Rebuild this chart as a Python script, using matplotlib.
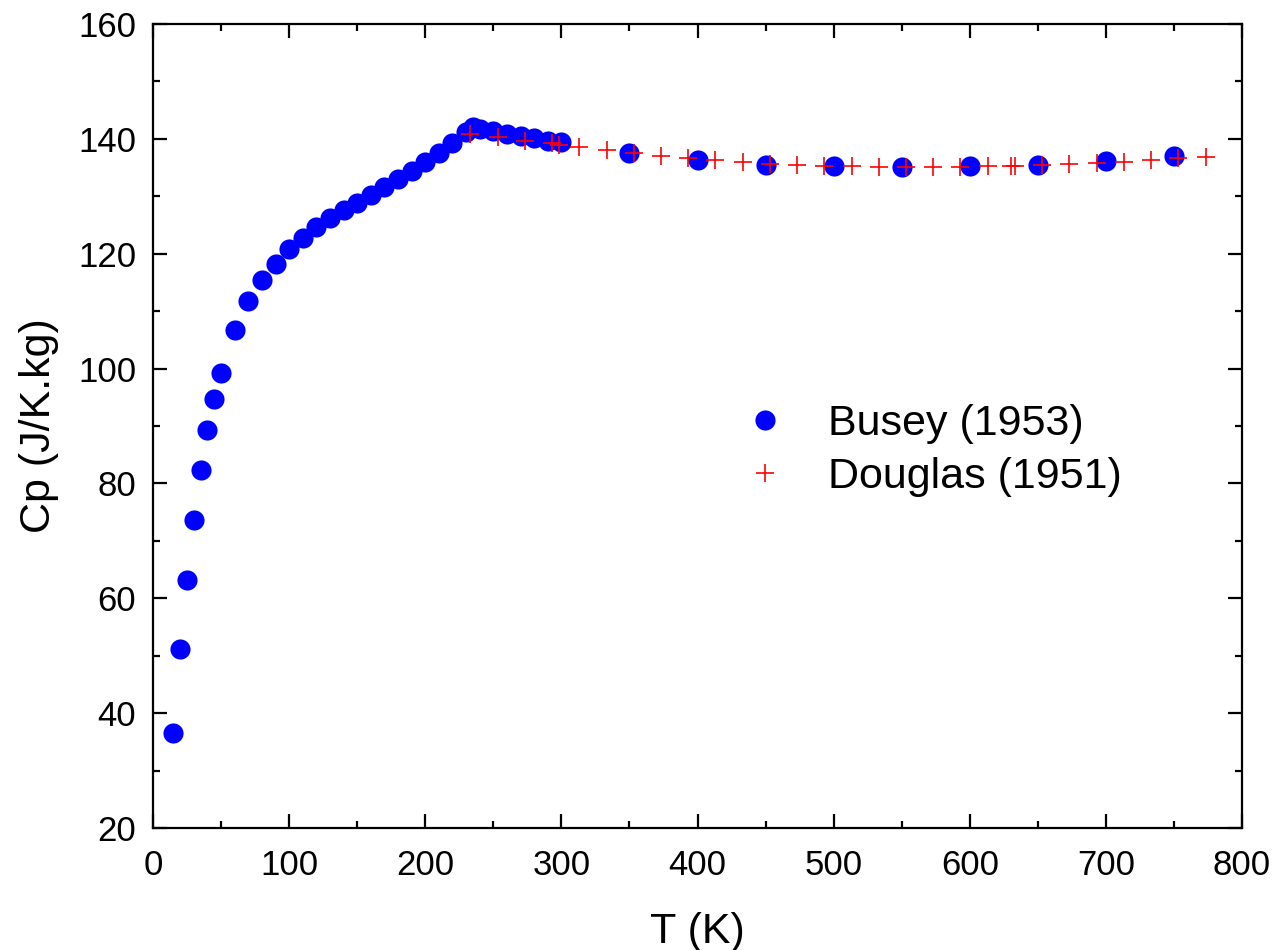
import matplotlib
matplotlib.use("Agg")
import matplotlib.pyplot as plt

plt.rcParams['font.family'] = ['Liberation Sans', 'DejaVu Sans']

# Busey (1953)
busey_T = [15, 20, 25, 30, 35, 40, 45, 50, 60, 70, 80, 90, 100, 110, 120, 130,
           140, 150, 160, 170, 180, 190, 200, 210, 220, 230, 235, 240, 250, 260,
           270, 280, 290, 300, 350, 400, 450, 500, 550, 600, 650, 700, 750]
busey_cp = [36.5, 51.2, 63.2, 73.6, 82.3, 89.3, 94.7, 99.2, 106.7, 111.8, 115.4,
            118.2, 120.8, 122.8, 124.7, 126.2, 127.6, 128.8, 130.2, 131.6, 133.0,
            134.4, 136.0, 137.5, 139.3, 141.2, 142.0, 141.8, 141.3, 140.9, 140.5,
            140.1, 139.7, 139.4, 137.5, 136.3, 135.5, 135.2, 135.1, 135.2, 135.5,
            136.2, 137.1]

# Douglas (1951)
douglas_T = [233.15, 253.15, 273.15, 293.15, 298.15, 313.15, 333.15, 353.15,
             373.15, 393.15, 413.15, 433.15, 453.15, 473.15, 493.15, 513.15,
             533.15, 553.15, 573.15, 593.15, 613.15, 630.0, 633.15, 653.15,
             673.15, 693.15, 713.15, 733.15, 753.15, 773.15]
douglas_cp = [140.9, 140.3, 139.7, 139.2, 139.0, 138.6, 138.1, 137.5, 137.0,
              136.7, 136.3, 136.0, 135.7, 135.5, 135.3, 135.2, 135.1, 135.1,
              135.1, 135.1, 135.2, 135.3, 135.3, 135.4, 135.6, 135.8, 136.0,
              136.3, 136.6, 136.9]

fig = plt.figure(figsize=(12.76, 9.5), dpi=100)
ax = fig.add_axes([0.1199, 0.1284, 0.8535, 0.8463])

ax.plot(busey_T, busey_cp, 'o', color='#0000ff', markersize=14.5,
        markeredgewidth=0, label='Busey (1953)')
ax.plot(douglas_T, douglas_cp, '+', color='#ff0000', markersize=13,
        markeredgewidth=1.2, label='Douglas (1951)')

ax.set_xlim(0, 800)
ax.set_ylim(20, 160)
ax.set_xticks(range(0, 801, 100))
ax.set_yticks(range(20, 161, 20))
ax.set_xticks(range(50, 800, 100), minor=True)
ax.set_yticks(range(30, 160, 20), minor=True)

for s in ax.spines.values():
    s.set_linewidth(1.6)
ax.tick_params(which='both', direction='in', top=True, right=True,
               width=1.6, labelsize=25)
ax.tick_params(which='major', length=10)
ax.tick_params(which='minor', length=5)
ax.tick_params(axis='x', pad=15)
ax.tick_params(axis='y', pad=12)

ax.set_xlabel('T (K)', fontsize=31, labelpad=22)
ax.set_ylabel('Cp (J/K.kg)', fontsize=31, labelpad=14)

ax.legend(loc='center left', bbox_to_anchor=(0.507, 0.47), frameon=False,
          fontsize=31, handlelength=1.0, handletextpad=0.95,
          labelspacing=0.3, numpoints=1)

fig.savefig('out.png', dpi=100)
